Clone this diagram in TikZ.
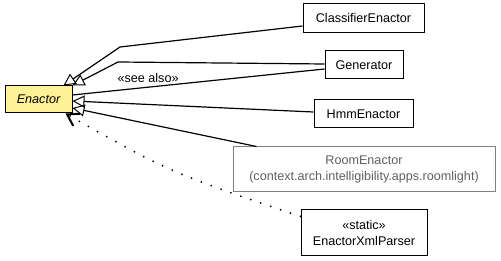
\documentclass[tikz,border=0pt]{standalone}
\usepackage{fontspec}
\setmainfont{Liberation Sans}
\usetikzlibrary{arrows.meta}
\definecolor{abstractfill}{RGB}{255,242,150}
\definecolor{foreigngray}{RGB}{128,128,128}
\definecolor{foreigntext}{RGB}{96,96,96}
\tikzset{
  classbox/.style={draw=black, line width=1pt, fill=white, inner sep=0pt,
    align=center, font=\fontsize{12.6}{16}\selectfont},
  abstractbox/.style={classbox, fill=abstractfill,
    font=\fontsize{12.6}{16}\selectfont\itshape},
  foreignbox/.style={classbox, draw=foreigngray, text=foreigntext},
  generalization/.style={line width=1.2pt,
    -{Triangle[open, length=12pt, width=12pt, line width=1pt]}},
  seealso/.style={line width=1.2pt},
  dependency/.style={line width=2pt, line cap=round,
    dash pattern=on 0pt off 10.5pt,
    -{Straight Barb[length=11pt, width=14pt, line width=2pt]}},
  stereolabel/.style={font=\fontsize{12.6}{16}\selectfont, inner sep=1pt}
}
\begin{document}
\begin{tikzpicture}[x=1pt, y=-1pt]
  \useasboundingbox (0,0) rectangle (501,261);

  % classes
  \node[abstractbox, minimum width=67pt, minimum height=27pt] (enactor) at (38.5,99.5) {Enactor};
  \node[classbox, minimum width=121pt, minimum height=29pt] (classifier) at (363.5,18.5) {ClassifierEnactor};
  \node[classbox, minimum width=78pt, minimum height=28pt] (generator) at (364,65) {Generator};
  \node[classbox, minimum width=99pt, minimum height=28pt] (hmm) at (363.5,114) {HmmEnactor};
  \node[foreignbox, minimum width=262pt, minimum height=45pt] (room) at (364,169.5)
    {RoomEnactor\\(context.arch.intelligibility.apps.roomlight)};
  \node[classbox, minimum width=126pt, minimum height=46pt] (parser) at (364,233)
    {«static»\\EnactorXmlParser};

  % bend points of the routed edges
  \coordinate (classifierbend) at (120,47);
  \coordinate (generatorbend) at (118,62);
  \coordinate (parsercurve) at (169,172);

  % generalizations
  \draw[generalization] ([yshift=-7.5pt]classifier.west) -- (classifierbend)
    -- ([xshift=-9pt]enactor.north east);
  \draw[generalization] ([yshift=1pt]generator.west) -- (generatorbend)
    -- (enactor.north east);
  \draw[generalization] ([yshift=2pt]hmm.west) -- ([yshift=-1.5pt]enactor.east);
  \draw[generalization] ([xshift=24pt]room.north west) -- ([yshift=-8.5pt]enactor.east);

  % see-also association
  \draw[seealso] ([yshift=4.5pt]enactor.east) -- node[stereolabel, above=3pt, pos=0.3] {«see also»}
    ([yshift=-4pt]generator.west);

  % dependency of the nested parser
  \draw[dependency] ([yshift=-7pt]parser.north west) .. controls (parsercurve)
    .. ([xshift=-7pt]enactor.south east);
\end{tikzpicture}
\end{document}
